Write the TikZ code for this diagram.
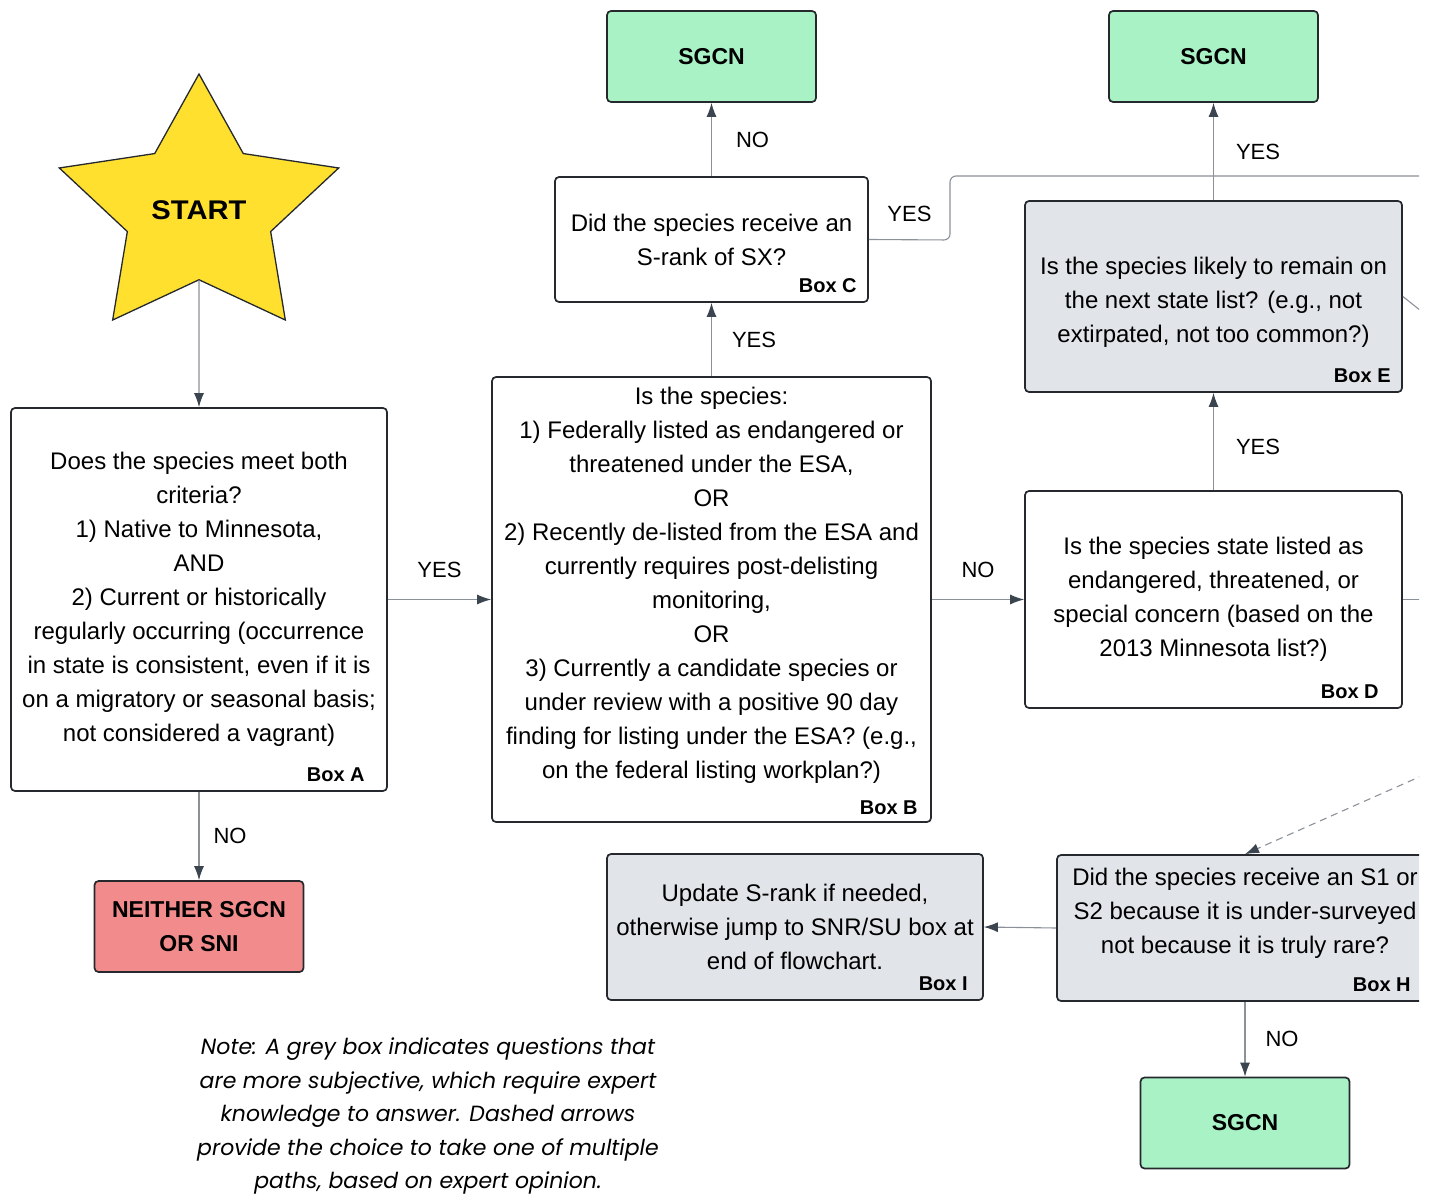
\documentclass[tikz,border=0pt]{standalone}
\usepackage{fontspec}
\setmainfont{Liberation Sans}
\newfontfamily\notefont{Poppins}
\usetikzlibrary{arrows.meta,shapes.geometric}
\definecolor{edge}{HTML}{25292E}
\definecolor{wire}{HTML}{8A9198}
\definecolor{tipc}{HTML}{3B4550}
\definecolor{greybox}{HTML}{E1E4E8}
\definecolor{greenbox}{HTML}{A9F2C6}
\definecolor{redbox}{HTML}{F28C8C}
\definecolor{staryellow}{HTML}{FFE02E}
\tikzset{
  qbox/.style={draw=edge,line width=1.7pt,rounded corners=4pt,fill=white,
    align=center,inner sep=2pt,font=\fontsize{24}{34}\selectfont},
  gbox/.style={qbox,fill=greybox},
  endbox/.style={draw=edge,line width=1.7pt,rounded corners=4pt,
    minimum width=209pt,minimum height=91pt,align=center,
    font=\fontsize{23}{34}\selectfont\bfseries},
  tag/.style={anchor=south east,inner sep=0pt,font=\fontsize{20}{24}\selectfont\bfseries},
  lbl/.style={inner sep=0pt,font=\fontsize{22}{26}\selectfont},
  flow/.style={draw=wire,line width=1.1pt,-{Latex[length=14pt,width=10pt,color=tipc]}},
}
\begin{document}
\begin{tikzpicture}[x=1pt,y=-1pt]
    \useasboundingbox (0,0) rectangle (1434,1198);
    \clip (0,0) rectangle (1419,1198);
    % start and first question
    \node[star,star points=5,star point ratio=1.95,minimum size=272pt,xscale=1.08,
      draw=edge,line width=1.3pt,fill=staryellow,
      font=\fontsize{27}{30}\selectfont\bfseries] (start) at (199,210) {START};
    \node[qbox,minimum width=376pt,minimum height=383pt] (A) at (199,599.5)
      {Does the species meet both\\criteria?\\1) Native to Minnesota,\\AND\\
       2) Current or historically\\regularly occurring (occurrence\\
       in state is consistent, even if it is\\on a migratory or seasonal basis;\\
       not considered a vagrant)};
    \node[endbox,fill=redbox] (neither) at (199,926.5) {NEITHER SGCN\\OR SNI};
    % federal listing
    \node[qbox,minimum width=439pt,minimum height=445pt] (B) at (711.5,599.5)
      {Is the species:\\1) Federally listed as endangered or\\
       threatened under the ESA,\\OR\\2) Recently de-listed from the ESA and\\
       currently requires post-delisting\\monitoring,\\OR\\
       3) Currently a candidate species or\\under review with a positive 90 day\\
       finding for listing under the ESA? (e.g.,\\on the federal listing workplan?)\\ \mbox{}};
    \node[qbox,minimum width=313pt,minimum height=125pt] (C) at (711.5,239.5)
      {Did the species receive an\\S-rank of SX?};
    \node[endbox,fill=greenbox] (sgcnC) at (711.5,56.5) {SGCN};
    % state listing
    \node[qbox,minimum width=377pt,minimum height=217pt] (D) at (1213.5,599.5)
      {Is the species state listed as\\endangered, threatened, or\\
       special concern (based on the\\2013 Minnesota list?)};
    \node[gbox,minimum width=377pt,minimum height=191pt] (E) at (1213.5,296.5)
      {\\[-6pt]Is the species likely to remain on\\the next state list? (e.g., not\\
       extirpated, not too common?)};
    \node[endbox,fill=greenbox] (sgcnE) at (1213.5,56.5) {SGCN};
    % lower row
    \node[gbox,minimum width=376pt,minimum height=146pt] (H) at (1245,928)
      {Did the species receive an S1 or\\S2 because it is under-surveyed\\
       not because it is truly rare?\\ \mbox{}};
    \node[gbox,minimum width=376pt,minimum height=146pt] (I) at (795,927)
      {Update S-rank if needed,\\otherwise jump to SNR/SU box at\\end of flowchart.};
    \node[endbox,fill=greenbox] (sgcnH) at (1245,1123) {SGCN};
    % box tags
    \node[tag] (tA) at ([shift={(-23,-10)}]A.south east) {Box A};
    \node[tag] (tB) at ([shift={(-14,-8)}]B.south east) {Box B};
    \node[tag] (tC) at ([shift={(-12,-10)}]C.south east) {Box C};
    \node[tag] (tD) at ([shift={(-24,-10)}]D.south east) {Box D};
    \node[tag] (tE) at ([shift={(-12,-10)}]E.south east) {Box E};
    \node[tag] (tH) at ([shift={(-23,-10)}]H.south east) {Box H};
    \node[tag] (tI) at ([shift={(-16,-10)}]I.south east) {Box I};
    % off-page ends
    \coordinate (offC) at (1480,176);
    \coordinate (offE) at (1480,358);
    \coordinate (offD) at (1480,599.5);
    \coordinate (offH) at (1480,750);
    % connectors
    \draw[flow] (start.south) -- (A.north);
    \draw[flow] (A.south) -- node[lbl,right=14pt] {NO} (neither.north);
    \draw[flow] (A.east) -- node[lbl,above=21pt] {YES} (B.west);
    \draw[flow] (B.north) -- node[lbl,right=20pt] {YES} (C.south);
    \draw[flow] (C.north) -- node[lbl,right=24pt] {NO} (sgcnC.south);
    \draw[draw=wire,line width=1.1pt,rounded corners=6pt] (C.east) -- node[lbl,above=17pt] {YES}
      (950,240) -- (950,176) -- (offC);
    \draw[flow] (B.east) -- node[lbl,above=21pt] {NO} (D.west);
    \draw[flow] (D.north) -- node[lbl,right=22pt,yshift=-5pt] {YES} (E.south);
    \draw[flow] (E.north) -- node[lbl,right=22pt] {YES} (sgcnE.south);
    \draw[draw=wire,line width=1.1pt] (E.east) -- (offE);
    \draw[draw=wire,line width=1.1pt] (D.east) -- (offD);
    \draw[flow,dashed,dash pattern=on 7pt off 5pt] (offH) -- (H.north);
    \draw[flow] (H.west) -- (I.east);
    \draw[flow] (H.south) -- node[lbl,right=20pt] {NO} (sgcnH.north);
    % note
    \node[align=center,inner sep=0pt,font=\notefont\itshape\fontsize{22}{33.5}\selectfont] (note) at (428,1116)
      {Note: A grey box indicates questions that\\are more subjective, which require expert\\
       knowledge to answer. Dashed arrows\\provide the choice to take one of multiple\\
       paths, based on expert opinion.};
\end{tikzpicture}
\end{document}
